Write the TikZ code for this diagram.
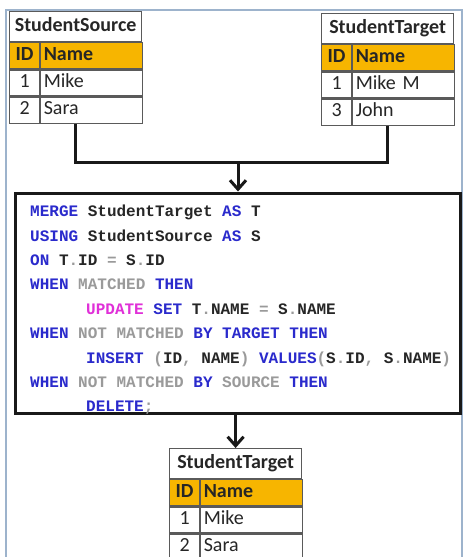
\documentclass[tikz,border=0pt]{standalone}
\usepackage{fontspec}
\setmainfont{Carlito}
\newfontfamily\sqlfont{Liberation Mono}
\usetikzlibrary{arrows.meta}

\definecolor{HeadGold}{HTML}{F7B500}
\definecolor{GridGray}{HTML}{5A5A5A}
\definecolor{SqlBlue}{HTML}{2A2ACC}
\definecolor{SqlGray}{HTML}{9A9A9A}
\definecolor{SqlPink}{HTML}{E030D8}
\definecolor{SqlText}{HTML}{262626}
\definecolor{FrameBlue}{HTML}{9DB3CC}

% couleurs du code SQL
\newcommand{\Kw}[1]{\textcolor{SqlBlue}{#1}}
\newcommand{\Gr}[1]{\textcolor{SqlGray}{#1}}
\newcommand{\Fn}[1]{\textcolor{SqlPink}{#1}}

\newcommand{\StudentTable}[8]%
% prefix, left, top, title, id1, name1, id2, name2
{
    \node[tabtitle, anchor=north west] (#1-title) at (#2,#3) {#4};
    \node[tabid, tabhead, anchor=north west] (#1-hid) at (#1-title.south west) {ID};
    \node[tabname, tabhead, anchor=north west] (#1-hname) at (#1-hid.north east) {Name};
    \node[tabid, anchor=north west] (#1-id1) at (#1-hid.south west) {#5};
    \node[tabname, anchor=north west] (#1-name1) at (#1-id1.north east) {#6};
    \node[tabid, anchor=north west] (#1-id2) at (#1-id1.south west) {#7};
    \node[tabname, anchor=north west] (#1-name2) at (#1-id2.north east) {#8};
}

\begin{document}
\begin{tikzpicture}
[   x=1pt, y=-1pt,
    tabcell/.style={draw=GridGray, line width=1.2pt, minimum height=26pt, inner sep=0pt,
        text height=13.5pt, text depth=4pt, text=SqlText, font=\fontsize{20}{22}\selectfont},
    tabtitle/.style={tabcell, minimum width=132pt, minimum height=30pt,
        font=\fontsize{20}{22}\selectfont\bfseries},
    tabid/.style={tabcell, minimum width=30pt},
    tabname/.style={tabcell, text width=96pt, inner xsep=3pt, align=left},
    tabhead/.style={fill=HeadGold, font=\fontsize{20}{22}\selectfont\bfseries},
    conn/.style={line width=3pt, black!90},
    arrow/.style={conn, -{Straight Barb[length=9pt, width=16pt]}},
    mergebox/.style={draw=black!90, line width=3pt, minimum width=445pt,
        minimum height=220pt, inner sep=0pt},
    sqlcode/.style={align=left, inner sep=0pt, text=SqlText,
        font=\sqlfont\bfseries\fontsize{16}{24.4}\selectfont}
]
    \useasboundingbox (0,0) rectangle (463,557);
    \draw[FrameBlue, line width=1.2pt] (6,10) rectangle (462,575);

    % tables de depart
    \StudentTable{src}{9}{11}{StudentSource}{1}{Mike}{2}{Sara}
    \StudentTable{tgt}{321}{13}{StudentTarget}{1}{Mike M}{3}{John}

    % instruction MERGE
    \node[mergebox, fill=white] (merge) at (238,303) {};
    \node[sqlcode, anchor=north west] (sql) at (30,205) {%
        \Kw{MERGE} StudentTarget \Kw{AS} T\\
        \Kw{USING} StudentSource \Kw{AS} S\\
        \Kw{ON} T\Gr{.}ID \Gr{=} S\Gr{.}ID\\
        \Kw{WHEN} \Gr{MATCHED} \Kw{THEN}\\
        \hspace*{56pt}\Fn{UPDATE} \Kw{SET} T\Gr{.}NAME \Gr{=} S\Gr{.}NAME\\
        \Kw{WHEN} \Gr{NOT MATCHED} \Kw{BY TARGET THEN}\\
        \hspace*{56pt}\Kw{INSERT} \Gr{(}ID\Gr{,} NAME\Gr{)} \Kw{VALUES}\Gr{(}S\Gr{.}ID\Gr{,} S\Gr{.}NAME\Gr{)}\\
        \Kw{WHEN} \Gr{NOT MATCHED} \Kw{BY} \Gr{SOURCE} \Kw{THEN}\\
        \hspace*{56pt}\Kw{DELETE}\Gr{;}};

    % table resultat
    \StudentTable{res}{169}{448}{StudentTarget}{1}{Mike}{2}{Sara}

    % liaisons
    \coordinate (join) at (238,162);
    \draw[conn] (src-title.center |- src-name2.south) |- (join)
        -| (tgt-title.center |- tgt-name2.south);
    \draw[arrow] (join) -- (merge.north);
    \draw[arrow] (res-title.north |- merge.south) -- (res-title.north);
\end{tikzpicture}
\end{document}
